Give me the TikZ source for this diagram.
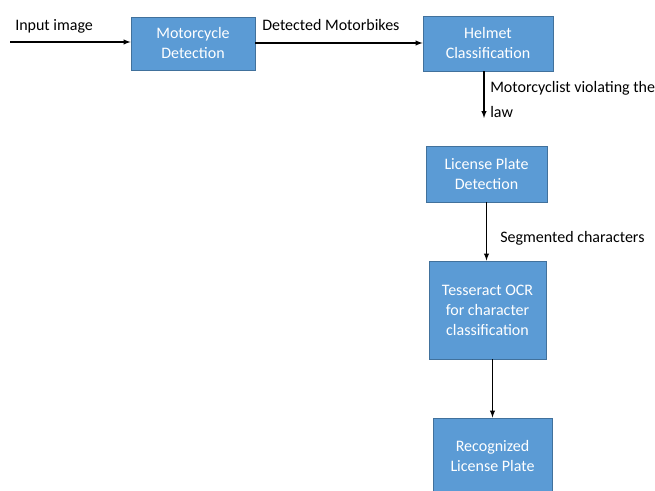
\documentclass[tikz,border=0pt]{standalone}
\usepackage{fontspec}
\setmainfont{Carlito}
\usepackage{tikz}
\definecolor{boxblue}{HTML}{5B9BD5}
\definecolor{boxedge}{HTML}{41719C}

\begin{document}
\begin{tikzpicture}[x=0.75pt, y=-0.75pt,
  blk/.style={draw=boxedge, line width=0.7pt, fill=boxblue, text=white, align=center, inner sep=2pt, font=\fontsize{12}{15}\selectfont},
  lbl/.style={inner sep=0pt, anchor=west, align=left, font=\fontsize{12}{15}\selectfont},
  arr/.style={-latex, line width=0.8pt}]
\useasboundingbox (0,0) rectangle (655,491);
\node[blk, minimum width=93pt, minimum height=39.75pt] (moto) at (193,43.5) {Motorcycle\\Detection};
\node[blk, minimum width=97.5pt, minimum height=41.25pt] (helmet) at (488,43.5) {Helmet\\Classification};
\node[blk, minimum width=90.75pt, minimum height=42pt] (lpd) at (486.5,174) {License Plate\\Detection};
\node[blk, minimum width=87.75pt, minimum height=73.5pt] (ocr) at (487.5,310) {Tesseract OCR\\for character\\classification};
\node[blk, minimum width=89.25pt, minimum height=57pt] (rec) at (492.5,456) {Recognized\\License Plate};

\coordinate (inp) at (10,42);
\coordinate (viol) at (484,118);

\node[lbl] (inlbl) at (15,26) {Input image};
\node[lbl] (detlbl) at (262,25) {Detected Motorbikes};
\node[lbl] (viollbl) at (490,99.5) {Motorcyclist violating the\\[3.5pt]law};
\node[lbl] (seglbl) at (500,238) {Segmented characters};

\draw[arr] (inp) -- (inp -| moto.west);
\draw[arr] (moto.east |- 0,43) -- (helmet.west |- 0,43);
\draw[arr] (helmet.south -| viol) -- (viol);
\draw[arr] (lpd.south) -- (lpd.south |- ocr.north);
\draw[arr] (ocr.south -| rec.north) -- (rec.north);
\end{tikzpicture}
\end{document}
